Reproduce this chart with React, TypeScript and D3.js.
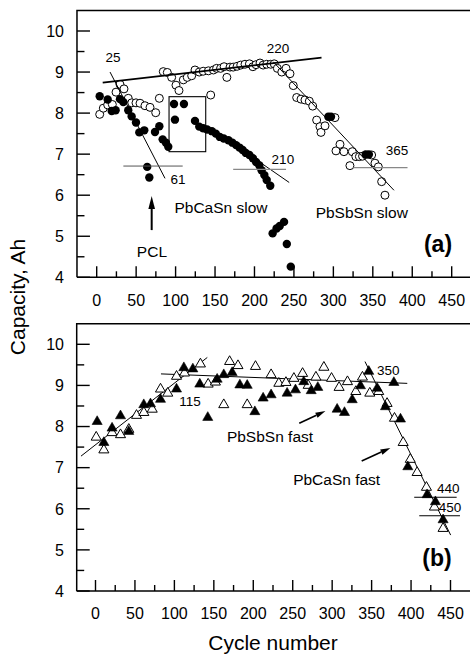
import React from "react";
import * as d3 from "d3";

// ---------- data ----------
const xTickValues = [0, 50, 100, 150, 200, 250, 300, 350, 400, 450];
const xMinorValues = [25, 75, 125, 175, 225, 275, 325, 375, 425];
const yTickValues = [4, 5, 6, 7, 8, 9, 10];
const yMinorValues = [4.5, 5.5, 6.5, 7.5, 8.5, 9.5];

// panel (a): PbSbSn slow (open circles)
const sbSlow: [number, number][] = [
  [3.8, 7.97], [8.4, 8.12], [13.9, 8.2], [19.8, 8.21], [24.5, 8.51], [29.5, 8.7], [34.6, 8.59],
  [40, 8.36], [44.4, 8.25], [49.8, 8.25], [54.9, 8.24], [61.2, 8.18], [67.6, 8.14], [74.8, 8.01],
  [79.4, 8.36], [84.4, 9.01], [89.5, 8.99], [95, 8.87], [100.5, 8.68], [104.3, 8.55], [109.8, 8.81],
  [114.8, 8.87], [120.4, 8.91], [124.6, 9.05], [130, 9.0], [135, 9.02], [141.6, 9.03], [144.5, 8.44],
  [148, 9.05], [152, 9.09], [157, 9.09], [161.5, 9.13], [165, 8.87], [169, 9.12], [173, 9.12],
  [178, 9.14], [182.6, 9.17], [188, 9.19], [193.6, 9.2], [198, 9.13], [202, 9.18], [207, 9.22],
  [211, 9.17], [215.5, 9.19], [220.6, 9.19], [225, 9.2], [229, 9.09], [234.6, 9.0], [240, 9.09],
  [245, 8.96], [249.2, 8.67], [253.5, 8.38], [259, 8.34], [264, 8.32], [269.5, 8.29], [273.8, 8.17],
  [278.8, 7.83], [283, 7.67], [284.3, 7.53], [289.4, 7.69], [302, 7.89], [303.3, 7.08], [308.4, 7.24],
  [313.4, 7.06], [321, 6.72], [324, 7.06], [328.5, 6.94], [333, 6.94], [337, 6.95], [348.5, 6.98],
  [352.7, 6.78], [357, 6.69], [361.2, 6.33], [365.4, 6.0],
];

// panel (a): PbCaSn slow (filled circles)
const caSlow: [number, number][] = [
  [3.8, 8.41], [13.9, 8.33], [19, 8.05], [24, 8.07], [29.5, 8.34], [33.7, 8.27], [40, 8.07],
  [44.3, 7.92], [49.8, 7.77], [54, 7.53], [60.3, 7.58], [64, 6.69], [66.7, 6.43], [73.9, 7.54],
  [79.4, 7.68], [83.6, 7.36], [87.8, 7.28], [90.7, 7.18], [98, 8.22], [99.2, 7.84], [110.6, 8.22],
  [124.6, 7.81], [130, 7.67], [135, 7.63], [140, 7.6], [146, 7.56], [151, 7.5], [156, 7.42],
  [161, 7.38], [167, 7.34], [172, 7.28], [176.7, 7.22], [181, 7.16], [185, 7.1], [189, 7.03],
  [193.6, 6.98], [198, 6.9], [202, 6.81], [206, 6.73], [209, 6.61], [212.5, 6.49], [215.5, 6.37],
  [220, 6.23], [223, 5.07], [228, 5.19], [232, 5.25], [237.5, 5.35], [241, 4.81], [246, 4.26],
  [293.6, 7.91], [297, 7.91], [341, 6.99], [345, 6.99],
];

// panel (b): PbSbSn fast (open triangles)
const sbFast: [number, number][] = [
  [0.9, 7.74], [10.6, 7.43], [21, 7.85], [31.7, 7.8], [42.2, 7.93], [52, 8.27], [61.3, 8.34],
  [71.9, 8.42], [82.4, 8.91], [91.6, 8.81], [102.7, 9.22], [112.8, 9.3], [133, 9.52], [142.8, 9.03],
  [152, 9.08], [162.6, 8.53], [170, 9.58], [180.6, 9.48], [192.3, 8.53], [202.8, 9.46], [222.6, 9.26],
  [232.4, 9.05], [241.4, 9.07], [251.5, 9.17], [262.5, 9.29], [269.6, 9.0], [279.4, 9.2], [289.5, 9.44],
  [299.2, 9.17], [308.8, 8.95], [319.4, 9.09], [330, 8.85], [338.4, 9.2], [347.7, 8.81], [359, 8.85],
  [369.6, 8.56], [379, 8.2], [390, 7.61], [399, 7.2], [407.7, 6.88], [419.5, 6.52], [429.6, 6.04],
  [440.6, 5.52],
];

// panel (b): PbCaSn fast (filled triangles)
const caFast: [number, number][] = [
  [2.1, 8.12], [10.6, 7.61], [21, 7.96], [31.7, 8.26], [42.2, 7.88], [61.2, 8.53], [69.7, 8.55],
  [82.4, 8.66], [102.7, 8.91], [112, 9.43], [123.4, 9.4], [132.2, 9.03], [142.3, 8.22], [154.2, 9.15],
  [162.6, 9.26], [173.2, 9.31], [183, 9.01], [192.3, 9.0], [202, 8.36], [212.5, 8.69], [222.6, 8.77],
  [242.9, 8.81], [253.5, 8.89], [264, 9.09], [273.4, 8.87], [281.8, 8.95], [306.3, 8.42], [315.6, 8.34],
  [325.4, 8.65], [335.9, 8.99], [346.4, 9.34], [357, 8.93], [367.6, 8.48], [378.2, 9.07], [386.6, 8.18],
  [395.9, 7.02], [420.3, 6.34], [430.9, 6.17], [440.6, 5.73],
];

// guide lines [x1, y1, x2, y2] in data units
const linesA: { p: [number, number, number, number]; w: number; c: string }[] = [
  { p: [7.6, 8.74, 285, 9.35], w: 1.8, c: "#000" },
  { p: [16.9, 9.0, 86.6, 6.41], w: 1, c: "#000" },
  { p: [33.8, 6.71, 109, 6.71], w: 1, c: "#555" },
  { p: [150, 7.56, 244, 6.31], w: 1, c: "#000" },
  { p: [173, 6.63, 240, 6.63], w: 1.2, c: "#888" },
  { p: [223.8, 9.25, 376.8, 6.12], w: 1, c: "#000" },
  { p: [325.4, 6.67, 394, 6.67], w: 1.2, c: "#888" },
];
const boxA = [91.7, 7.06, 138.2, 8.4];
const linesB: { p: [number, number, number, number]; w: number; c: string }[] = [
  { p: [-18.4, 7.28, 141.7, 9.68], w: 1, c: "#000" },
  { p: [83, 9.28, 395.2, 9.05], w: 1, c: "#000" },
  { p: [341.6, 9.58, 450.2, 5.36], w: 1, c: "#000" },
  { p: [404, 6.28, 457.8, 6.28], w: 1, c: "#000" },
  { p: [410.4, 5.83, 462, 5.83], w: 1, c: "#000" },
];

// labels [text, x, y, size]
const labelsA: [string, number, number, number][] = [
  ["25", 20.7, 9.37, 13.5],
  ["220", 229.8, 9.59, 13.5],
  ["61", 103, 6.39, 13.5],
  ["210", 236, 6.88, 13.5],
  ["365", 380.6, 7.1, 13.5],
  ["PbCaSn slow", 157.5, 5.69, 15.5],
  ["PbSbSn slow", 336, 5.57, 15.5],
  ["PCL", 70, 4.62, 15.5],
];
const labelsB: [string, number, number, number][] = [
  ["115", 119.8, 8.61, 13.5],
  ["350", 371.1, 9.36, 13.5],
  ["440", 447.1, 6.51, 13.5],
  ["450", 449.3, 6.04, 13.5],
  ["PbSbSn fast", 221.2, 7.75, 15.5],
  ["PbCaSn fast", 305.7, 6.7, 15.5],
];
// arrows [x1, y1, x2, y2] (head at x2,y2)
const arrowsA: [number, number, number, number][] = [[69.7, 5.15, 69.7, 5.98]];
const arrowsB: [number, number, number, number][] = [
  [258.3, 8.08, 291.5, 8.38],
  [337.4, 7.16, 373.8, 7.48],
];

const FONT = "'Liberation Sans', Arial, Helvetica, sans-serif";

type Scale = d3.ScaleLinear<number, number>;

function Arrow({ x1, y1, x2, y2, len, half, w }: { x1: number; y1: number; x2: number; y2: number; len: number; half: number; w: number }) {
  const dx = x2 - x1, dy = y2 - y1;
  const L = Math.hypot(dx, dy);
  const ux = dx / L, uy = dy / L;
  const bx = x2 - ux * len, by = y2 - uy * len;
  const px = -uy * half, py = ux * half;
  return (
    <g>
      <line x1={x1} y1={y1} x2={bx} y2={by} stroke="#000" strokeWidth={w} />
      <polygon points={`${x2},${y2} ${bx + px},${by + py} ${bx - px},${by - py}`} fill="#000" />
    </g>
  );
}

function Panel({
  x, y, left, top, children, tag, tagPos, labelY,
}: {
  x: Scale; y: Scale; left: number; top: number; children: React.ReactNode; tag: string; tagPos: [number, number]; labelY: number;
}) {
  const bottom = y(4);
  return (
    <g>
      {children}
      {/* frame */}
      <path d={`M${left},${bottom} L${left},${top} L${480},${top}`} fill="none" stroke="#000" strokeWidth={1.5} />
      <line x1={left} y1={bottom} x2={480} y2={bottom} stroke="#000" strokeWidth={1.5} />
      {yTickValues.map((v) => (
        <g key={"yt" + v}>
          <line x1={left} x2={left + 13} y1={y(v)} y2={y(v)} stroke="#000" strokeWidth={1.4} />
          <text x={64} y={y(v)} dy="0.36em" textAnchor="end" fontSize={16} fontFamily={FONT}>{v}</text>
        </g>
      ))}
      {yMinorValues.map((v) => (
        <line key={"ym" + v} x1={left} x2={left + 7.5} y1={y(v)} y2={y(v)} stroke="#000" strokeWidth={1.4} />
      ))}
      {xTickValues.map((v) => (
        <g key={"xt" + v}>
          <line x1={x(v)} x2={x(v)} y1={bottom} y2={bottom - 11} stroke="#000" strokeWidth={1.4} />
          <text x={x(v)} y={labelY} textAnchor="middle" fontSize={16} fontFamily={FONT}>{v}</text>
        </g>
      ))}
      {xMinorValues.map((v) => (
        <line key={"xm" + v} x1={x(v)} x2={x(v)} y1={bottom} y2={bottom - 6} stroke="#000" strokeWidth={1.4} />
      ))}
      <text x={tagPos[0]} y={tagPos[1]} dy="0.35em" textAnchor="middle" fontSize={23} fontWeight="bold" fontFamily={FONT}>{tag}</text>
    </g>
  );
}

export default function App() {
  const xA = d3.scaleLinear().domain([0, 450]).range([96.7, 451.7]);
  const yA = d3.scaleLinear().domain([4, 10]).range([277.3, 31]);
  const xB = d3.scaleLinear().domain([0, 450]).range([95.5, 450.5]);
  const yB = d3.scaleLinear().domain([4, 10]).range([591, 344.3]);
  const tri = d3.symbol().type(d3.symbolTriangle).size(44)() as string;

  return (
    <svg width={470} height={655} style={{ position: "absolute", left: 0, top: 0, background: "#fff" }}>
      <rect width={470} height={655} fill="#fff" />
      {/* Panel (a) */}
      <Panel x={xA} y={yA} left={xA(-25)} top={yA(10.5)} tag="(a)" tagPos={[438, 244]} labelY={306}>
        <rect x={xA(boxA[0])} y={yA(boxA[3])} width={xA(boxA[2]) - xA(boxA[0])} height={yA(boxA[1]) - yA(boxA[3])}
          fill="none" stroke="#000" strokeWidth={1.1} />
        {sbSlow.map((d, i) => (
          <circle key={"o" + i} cx={xA(d[0])} cy={yA(d[1])} r={4} fill="#fff" stroke="#000" strokeWidth={1} />
        ))}
        {caSlow.map((d, i) => (
          <circle key={"f" + i} cx={xA(d[0])} cy={yA(d[1])} r={4.2} fill="#000" />
        ))}
        {linesA.map((l, i) => (
          <line key={"l" + i} x1={xA(l.p[0])} y1={yA(l.p[1])} x2={xA(l.p[2])} y2={yA(l.p[3])} stroke={l.c} strokeWidth={l.w} />
        ))}
        {labelsA.map((t, i) => (
          <text key={"t" + i} x={xA(t[1])} y={yA(t[2])} dy="0.35em" textAnchor="middle" fontSize={t[3]} fontFamily={FONT}>{t[0]}</text>
        ))}
        {arrowsA.map((a, i) => (
          <Arrow key={"a" + i} x1={xA(a[0])} y1={yA(a[1])} x2={xA(a[2])} y2={yA(a[3])} len={13} half={3.3} w={2} />
        ))}
      </Panel>

      {/* Panel (b) */}
      <Panel x={xB} y={yB} left={76.7} top={yB(10.5)} tag="(b)" tagPos={[437, 558]} labelY={619}>
        {linesB.map((l, i) => (
          <line key={"l" + i} x1={xB(l.p[0])} y1={yB(l.p[1])} x2={xB(l.p[2])} y2={yB(l.p[3])} stroke={l.c} strokeWidth={l.w} />
        ))}
        {sbFast.map((d, i) => (
          <path key={"o" + i} d={tri} transform={`translate(${xB(d[0])},${yB(d[1])})`} fill="#fff" stroke="#000" strokeWidth={1} />
        ))}
        {caFast.map((d, i) => (
          <path key={"f" + i} d={tri} transform={`translate(${xB(d[0])},${yB(d[1])})`} fill="#000" stroke="#000" strokeWidth={0.6} />
        ))}
        {labelsB.map((t, i) => (
          <text key={"t" + i} x={xB(t[1])} y={yB(t[2])} dy="0.35em" textAnchor="middle" fontSize={t[3]} fontFamily={FONT}>{t[0]}</text>
        ))}
        {arrowsB.map((a, i) => (
          <Arrow key={"a" + i} x1={xB(a[0])} y1={yB(a[1])} x2={xB(a[2])} y2={yB(a[3])} len={10} half={2.8} w={1.6} />
        ))}
      </Panel>

      {/* axis titles */}
      <text transform="translate(25,297) rotate(-90)" textAnchor="middle" fontSize={21} fontFamily={FONT}>Capacity, Ah</text>
      <text x={273} y={650} textAnchor="middle" fontSize={21} fontFamily={FONT}>Cycle number</text>
    </svg>
  );
}
